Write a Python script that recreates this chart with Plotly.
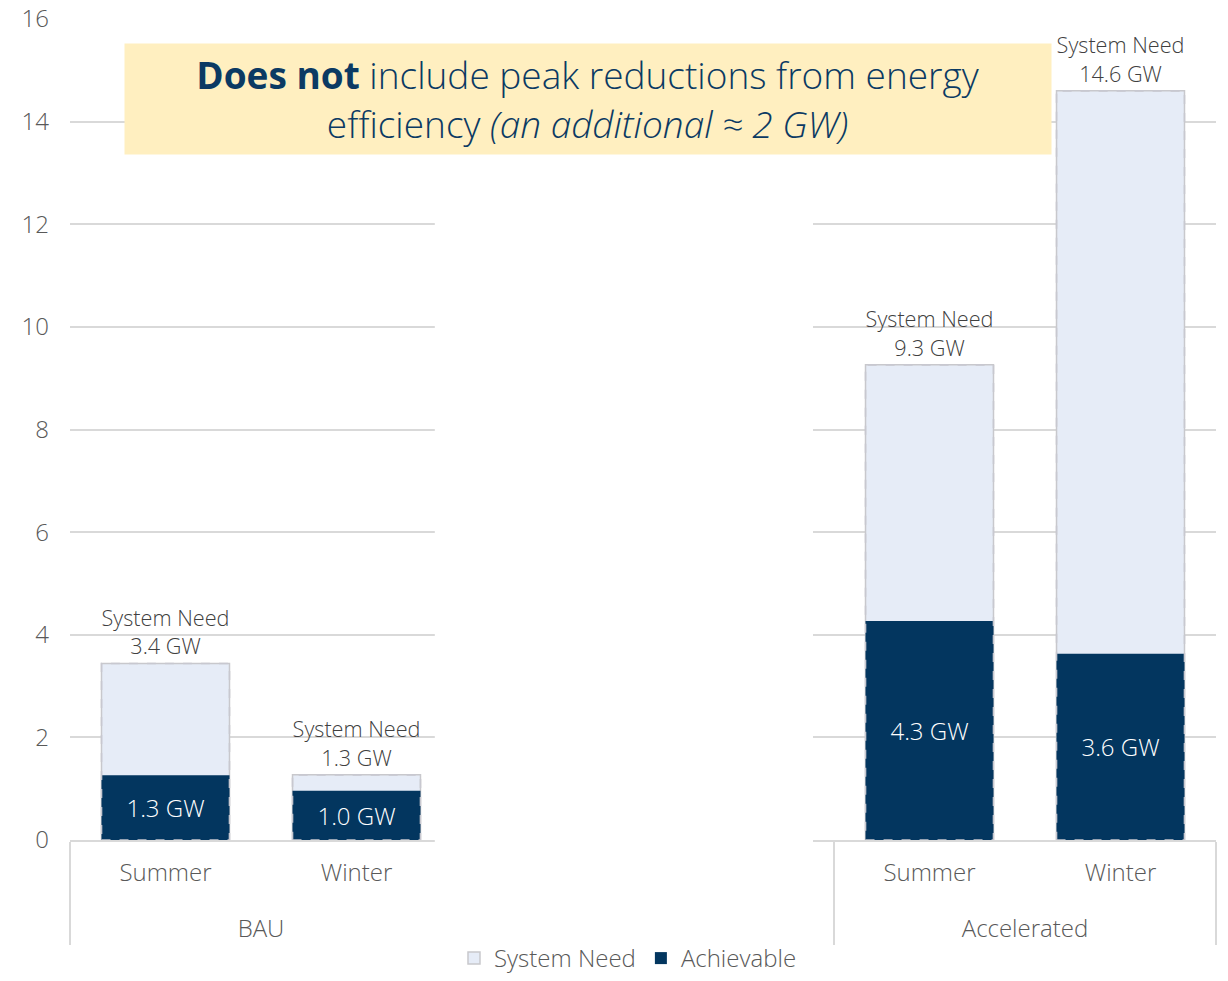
import plotly.graph_objects as go

# ---- data ----
groups = [" <br>BAU", " <br>BAU", " ", " ", " <br>Accelerated", " <br>Accelerated"]
seasons = ["Summer", "Winter", "  ", "   ", "Summer", "Winter"]
system_need = [3.44, 1.27, None, None, 9.26, 14.6]
achievable = [1.26, 0.96, None, None, 4.27, 3.63]
y_ticks = [0, 2, 4, 6, 8, 10, 12, 14, 16]

NAVY = "#03365F"
LIGHT = "#E6ECF7"
GREY_TXT = "#595959"
FONT = "Open Sans"
W = 350
FS = 24

BAR_W = 0.67

fig = go.Figure()

fig.add_trace(go.Bar(
    x=[groups, seasons], y=system_need, name="System Need",
    marker=dict(color=LIGHT, line=dict(color="#C8C8CC", width=1.5)),
    width=BAR_W,
    texttemplate="System Need<br>%{y:.1f} GW", textposition="outside",
    textfont=dict(color="#404040", size=FS, family=FONT, weight=W),
    cliponaxis=False,
))
fig.add_trace(go.Bar(
    x=[groups, seasons], y=achievable, name="Achievable",
    marker=dict(color=NAVY, line=dict(width=0)),
    width=BAR_W,
    texttemplate="%{y:.1f} GW", textposition="inside", insidetextanchor="middle",
    textangle=0,
    textfont=dict(color="white", size=FS, family=FONT, weight=W),
))

shapes = []
# dashed outlines of the System Need bars
for i, v in enumerate(system_need):
    if v is None:
        continue
    shapes.append(dict(type="rect", xref="x", yref="y",
                       x0=i - BAR_W / 2, x1=i + BAR_W / 2, y0=0, y1=v,
                       line=dict(color="#C8C8D0", width=1.6, dash="dash"),
                       fillcolor="rgba(0,0,0,0)", layer="above"))
# white mask covering the empty middle categories
shapes.append(dict(type="rect", xref="x", yref="paper",
                   x0=1.41, x1=3.39, y0=-0.25, y1=0.83,
                   line=dict(width=0), fillcolor="white", layer="above"))

fig.update_layout(
    barmode="overlay",
    width=1228, height=981,
    margin=dict(l=70, r=12, t=19, b=141, autoexpand=False),
    paper_bgcolor="white", plot_bgcolor="white",
    font=dict(family=FONT, color=GREY_TXT, size=FS, weight=W),
    showlegend=True,
    legend=dict(orientation="h", xref="container", yref="container",
                x=0.5114, xanchor="center", y=0.0, yanchor="bottom",
                font=dict(size=FS, color=GREY_TXT, family=FONT, weight=W),
                itemwidth=30, traceorder="normal"),
    shapes=shapes,
    annotations=[dict(
        xref="paper", yref="y", x=0.4516, y=14.44,
        text="<b>Does not</b> include peak reductions from energy<br>efficiency <i>(an additional ≈ 2 GW)</i>",
        showarrow=False, align="center",
        font=dict(family=FONT, size=37, color="#0B3A63", weight=W),
        bgcolor="#FFEFC0", width=922, height=106, borderpad=2,
        xanchor="center", yanchor="middle",
    )],
)

fig.update_yaxes(range=[0, 16], tickvals=y_ticks, showgrid=True,
                 gridcolor="#D9D9D9", gridwidth=1.5, zeroline=False,
                 showline=False, ticks="", ticklabelstandoff=20,
                 automargin=False,
                 tickfont=dict(size=FS, color=GREY_TXT, family=FONT, weight=W))
fig.update_xaxes(type="multicategory", showline=True, linecolor="#D9D9D9",
                 linewidth=1.5, showdividers=True, dividercolor="#D9D9D9",
                 dividerwidth=1.5, ticks="", showgrid=False,
                 ticklabelstandoff=10, automargin=False,
                 tickfont=dict(size=FS, color=GREY_TXT, family=FONT, weight=W))

fig.write_html("out.html")
